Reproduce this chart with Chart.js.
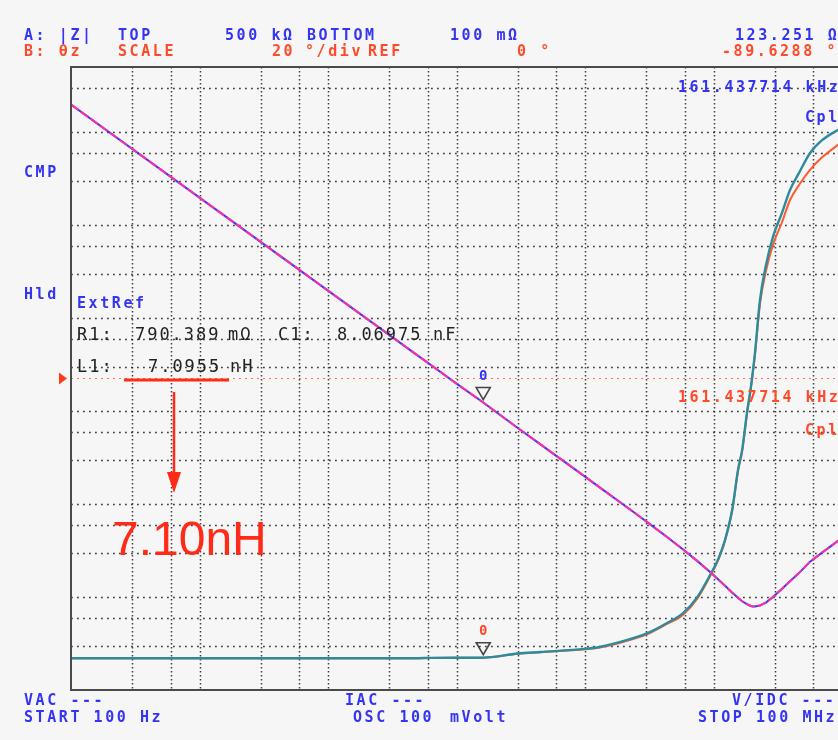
<!DOCTYPE html>
<html>
<head>
<meta charset="utf-8">
<title>|Z| / θz sweep</title>
<script src="https://cdn.jsdelivr.net/npm/chart.js@4.4.1/dist/chart.umd.min.js"></script>
<style>
  html, body { margin: 0; padding: 0; background: #f6f6f6; overflow: hidden; }
  canvas { display: block; }
</style>
</head>
<body>
<canvas id="sweep" width="850" height="740"></canvas>
<script>
// sweep points (Hz) shared by all four traces
const freqHz = [100, 1e3, 1e4, 5e4, 6.2e4, 1e5, 161437.714, 3e5, 4.5e5, 1e6, 1.3e6, 2.4e6, 3.2e6,
  4.35e6, 5.8e6, 7.5e6, 9.4e6, 1.1e7, 1.23e7, 1.4e7, 1.55e7, 1.67e7, 1.82e7, 1.95e7, 2.03e7,
  2.1e7, 2.3e7, 2.56e7, 2.9e7, 3.4e7, 3.94e7, 4.7e7, 5.64e7, 7e7, 9.3e7, 1e8];

// trace A: |Z| in ohms (measured + equivalent-circuit fit)
const zMeasOhm = [197200, 19720, 1972, 394.4, 318.1, 197.2, 123.251, 65.7, 43.8, 19.68, 15.11, 8.15, 6.07,
  4.41, 3.24, 2.43, 1.86, 1.52, 1.32, 1.11, 0.98, 0.90, 0.84, 0.80, 0.79,
  0.79, 0.81, 0.87, 1.00, 1.22, 1.48, 1.85, 2.40, 3.00, 4.01, 4.33];
const zFitOhm = zMeasOhm.slice();

// trace B: phase in degrees
const phaseMeasDeg = [-89.8, -89.8, -89.8, -89.8, -89.7, -89.65, -89.63, -88.3, -87.8, -86.8, -86.2, -83.3, -81.4,
  -78.5, -75.3, -70.1, -63.1, -57.5, -51.8, -42.0, -29.4, -23.0, -11.1, -3.0, 2.7,
  8.0, 25.2, 36.4, 45.4, 53.0, 60.5, 66.5, 72.4, 76.5, 79.8, 80.5];
const phaseFitDeg = [-89.8, -89.8, -89.8, -89.8, -89.7, -89.65, -89.63, -88.4, -87.9, -86.9, -86.4, -83.6, -81.7,
  -78.8, -75.8, -70.6, -63.5, -57.8, -52.0, -42.3, -29.8, -23.4, -11.5, -3.4, 2.3,
  7.5, 24.0, 34.5, 42.9, 50.0, 57.3, 62.5, 67.0, 71.0, 75.0, 76.0];

// graticule
const freqGridHz = [100, 300, 600, 1e3, 3e3, 6e3, 1e4, 3e4, 6e4, 1e5, 3e5, 6e5, 1e6, 3e6, 6e6, 1e7, 3e7, 6e7, 1e8];
const zGridOhm = [0.3, 0.6, 1, 3, 6, 10, 30, 60, 100, 300, 600, 1e3, 3e3, 6e3, 1e4, 3e4, 6e4, 1e5, 3e5];

const startHz = 100, stopHz = 1e8;
const zBottomOhm = 0.1, zTopOhm = 5e5;
const phaseMinDeg = -100, phaseMaxDeg = 100, phaseRefDeg = 0;

// marker 0
const markerFreqHz = 161437.714;
const markerZOhm = 123.251;
const markerPhaseDeg = -89.6288;

const BLUE = '#3434f2';
const RED = '#ff4a2a';
const MONO = 'bold 15px "DejaVu Sans Mono", "Liberation Mono", monospace';

function toXY(values) {
  return freqHz.map((f, i) => ({ x: f, y: values[i] }));
}

function mono(ctx, str, x, y, color, pitch = 11.6) {
  ctx.fillStyle = color;
  [...str].forEach((ch, i) => ctx.fillText(ch, x + i * pitch, y));
}

function seg(ctx, x1, y1, x2, y2) {
  ctx.beginPath();
  ctx.moveTo(x1, y1);
  ctx.lineTo(x2, y2);
  ctx.stroke();
}

const screenPlugin = {
  id: 'screen',
  beforeDatasetsDraw(chart) {
    const { ctx, chartArea: a, scales } = chart;
    ctx.save();
    ctx.strokeStyle = 'rgba(30,30,30,0.85)';
    ctx.lineWidth = 1.5;

    ctx.setLineDash([1.5, 2.5]);
    freqGridHz.forEach(f => {
      const x = Math.round(scales.x.getPixelForValue(f)) + 0.5;
      if (x <= a.left + 2 || x >= a.right - 2) return;
      seg(ctx, x, a.top, x, a.bottom);
    });

    ctx.setLineDash([1.8, 4.2]);
    zGridOhm.forEach(z => {
      const y = Math.round(scales.z.getPixelForValue(z)) + 0.5;
      if (y <= a.top + 2 || y >= a.bottom - 2) return;
      seg(ctx, a.left, y, a.right, y);
    });

    // phase reference line
    const y0 = scales.ph.getPixelForValue(phaseRefDeg);
    ctx.strokeStyle = '#ff7050';
    ctx.lineWidth = 1.2;
    ctx.setLineDash([2, 4]);
    seg(ctx, a.left, y0, a.right, y0);
    ctx.restore();
  },

  afterDatasetsDraw(chart) {
    const { ctx, chartArea: a, scales } = chart;
    ctx.save();

    // frame
    ctx.strokeStyle = '#4a4a4a';
    ctx.lineWidth = 2;
    ctx.strokeRect(a.left, a.top, a.right - a.left, a.bottom - a.top);

    // reference arrow on the left edge
    const y0 = scales.ph.getPixelForValue(phaseRefDeg);
    ctx.fillStyle = '#ff3b1f';
    ctx.beginPath();
    ctx.moveTo(a.left - 4, y0);
    ctx.lineTo(a.left - 12, y0 - 6);
    ctx.lineTo(a.left - 12, y0 + 6);
    ctx.closePath();
    ctx.fill();

    // marker 0 on both traces
    const mx = scales.x.getPixelForValue(markerFreqHz);
    const drawMarker = (y, color) => {
      ctx.strokeStyle = '#444';
      ctx.lineWidth = 1.6;
      ctx.beginPath();
      ctx.moveTo(mx, y - 3);
      ctx.lineTo(mx - 7, y - 15);
      ctx.lineTo(mx + 7, y - 15);
      ctx.closePath();
      ctx.stroke();
      ctx.font = 'bold 14px "DejaVu Sans Mono", monospace';
      ctx.textAlign = 'center';
      ctx.textBaseline = 'middle';
      ctx.fillStyle = color;
      ctx.fillText('0', mx, y - 26);
    };
    drawMarker(scales.z.getPixelForValue(markerZOhm), BLUE);
    drawMarker(scales.ph.getPixelForValue(markerPhaseDeg), RED);

    ctx.font = MONO;
    ctx.textAlign = 'left';
    ctx.textBaseline = 'middle';

    // header
    mono(ctx, 'A: |Z|', 24, 36, BLUE);
    mono(ctx, 'TOP', 118, 36, BLUE);
    mono(ctx, '500 kΩ', 225, 36, BLUE);
    mono(ctx, 'BOTTOM', 307, 36, BLUE);
    mono(ctx, '100 mΩ', 450, 36, BLUE);
    mono(ctx, markerZOhm.toFixed(3) + ' Ω', 735, 36, BLUE);

    mono(ctx, 'B: θz', 24, 52, RED);
    mono(ctx, 'SCALE', 118, 52, RED);
    mono(ctx, '20', 272, 52, RED);
    mono(ctx, '°/div', 305, 52, RED);
    mono(ctx, 'REF', 368, 52, RED);
    mono(ctx, '0 °', 517, 52, RED);
    mono(ctx, markerPhaseDeg.toFixed(4) + ' °', 722, 52, RED);

    mono(ctx, 'CMP', 24, 173, BLUE);
    mono(ctx, 'Hld', 24, 295, BLUE);

    // marker readouts
    const mLabel = (markerFreqHz / 1000).toFixed(6) + ' kHz';
    mono(ctx, mLabel, 678, 88, BLUE);
    mono(ctx, 'Cpl', 805, 118, BLUE);
    mono(ctx, mLabel, 678, 398, RED);
    mono(ctx, 'Cpl', 805, 431, RED);

    // equivalent circuit
    mono(ctx, 'ExtRef', 77, 304, BLUE);
    ctx.font = '17px "DejaVu Sans Mono", "Liberation Mono", monospace';
    const INK = '#222';
    mono(ctx, 'R1:', 77, 336, INK, 12.2);
    mono(ctx, '790.389', 135, 336, INK, 12.2);
    mono(ctx, 'mΩ', 228, 336, INK, 12.2);
    mono(ctx, 'C1:', 278, 336, INK, 12.2);
    mono(ctx, '8.06975', 337, 336, INK, 12.2);
    mono(ctx, 'nF', 433, 336, INK, 12.2);
    mono(ctx, 'L1:', 77, 368, INK, 12.2);
    mono(ctx, '7.0955', 148, 368, INK, 12.2);
    mono(ctx, 'nH', 230, 368, INK, 12.2);

    // L1 callout
    ctx.strokeStyle = '#ff2a17';
    ctx.fillStyle = '#ff2a17';
    ctx.lineWidth = 3;
    seg(ctx, 124, 380, 229, 380);
    ctx.lineWidth = 2.5;
    seg(ctx, 174, 392, 174, 474);
    ctx.beginPath();
    ctx.moveTo(167, 472);
    ctx.lineTo(181, 472);
    ctx.lineTo(174, 493);
    ctx.closePath();
    ctx.fill();
    ctx.font = '48px "Liberation Sans", Arial, sans-serif';
    ctx.textBaseline = 'alphabetic';
    ctx.fillText('7.10nH', 112, 555);

    // footer
    ctx.font = MONO;
    ctx.textBaseline = 'middle';
    mono(ctx, 'VAC ---', 24, 701, BLUE);
    mono(ctx, 'START 100 Hz', 24, 718, BLUE);
    mono(ctx, 'IAC ---', 345, 701, BLUE);
    mono(ctx, 'OSC 100', 353, 718, BLUE);
    mono(ctx, 'mVolt', 450, 718, BLUE);
    mono(ctx, 'V/IDC ---', 732, 701, BLUE);
    mono(ctx, 'STOP 100 MHz', 698, 718, BLUE);

    ctx.restore();
  }
};

new Chart(document.getElementById('sweep'), {
  type: 'line',
  data: {
    datasets: [
      {
        label: '|Z| fit', data: toXY(zFitOhm), yAxisID: 'z', order: 0,
        borderColor: '#ff2fa0', borderWidth: 2, borderDash: [9, 3], tension: 0
      },
      {
        label: 'θz meas', data: toXY(phaseMeasDeg), yAxisID: 'ph', order: 1,
        borderColor: '#2d8c9c', borderWidth: 2.4, cubicInterpolationMode: 'monotone'
      },
      {
        label: '|Z| meas', data: toXY(zMeasOhm), yAxisID: 'z', order: 2,
        borderColor: '#3a3aff', borderWidth: 2, tension: 0
      },
      {
        label: 'θz fit', data: toXY(phaseFitDeg), yAxisID: 'ph', order: 3,
        borderColor: '#ff5a30', borderWidth: 2, cubicInterpolationMode: 'monotone'
      }
    ]
  },
  options: {
    responsive: false,
    animation: false,
    layout: { padding: { left: 71, top: 67, right: 8, bottom: 50 } },
    elements: { point: { radius: 0 } },
    plugins: { legend: { display: false }, tooltip: { enabled: false } },
    scales: {
      x: { type: 'logarithmic', min: startHz, max: stopHz, display: false },
      z: { type: 'logarithmic', position: 'left', min: zBottomOhm, max: zTopOhm, display: false },
      ph: { type: 'linear', position: 'right', min: phaseMinDeg, max: phaseMaxDeg, display: false }
    }
  },
  plugins: [screenPlugin]
});
</script>
</body>
</html>
